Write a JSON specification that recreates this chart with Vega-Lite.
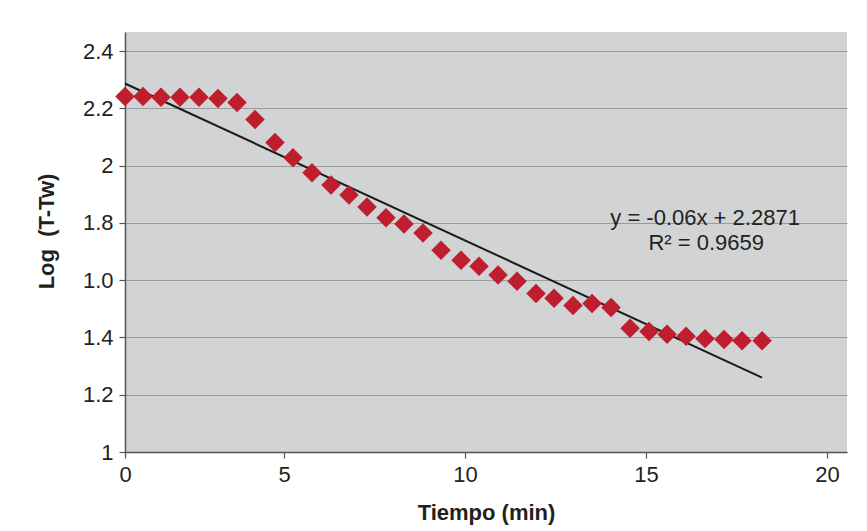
{
  "$schema": "https://vega.github.io/schema/vega-lite/v6.json",
  "autosize": {"type": "none"},
  "padding": {"left": 125, "top": 32, "right": 20, "bottom": 79},
  "width": 722,
  "height": 420,
  "background": "white",
  "config": {
    "font": "Liberation Sans",
    "view": {"fill": "#d1d3d4", "stroke": null},
    "axis": {
      "labelFont": "Liberation Sans",
      "titleFont": "Liberation Sans",
      "labelColor": "#231f20",
      "titleColor": "#231f20",
      "labelFontSize": 22,
      "titleFontSize": 22,
      "titleFontWeight": "bold",
      "domainColor": "#555555",
      "domainWidth": 1.5,
      "tickColor": "#555555",
      "tickWidth": 1.2,
      "tickSize": 6,
      "labelFlush": false
    }
  },
  "datasets": {
    "pts": [
      {"t": 0.0, "v": 2.242},
      {"t": 0.566, "v": 2.242},
      {"t": 1.132, "v": 2.239},
      {"t": 1.73, "v": 2.239},
      {"t": 2.327, "v": 2.239},
      {"t": 2.925, "v": 2.235},
      {"t": 3.522, "v": 2.221},
      {"t": 4.088, "v": 2.161},
      {"t": 4.717, "v": 2.081},
      {"t": 5.249, "v": 2.028},
      {"t": 5.773, "v": 1.975},
      {"t": 6.298, "v": 1.933},
      {"t": 6.796, "v": 1.898},
      {"t": 7.293, "v": 1.856},
      {"t": 7.818, "v": 1.818},
      {"t": 8.315, "v": 1.796},
      {"t": 8.84, "v": 1.765},
      {"t": 9.337, "v": 1.705},
      {"t": 9.89, "v": 1.670},
      {"t": 10.387, "v": 1.649},
      {"t": 10.912, "v": 1.618},
      {"t": 11.436, "v": 1.596},
      {"t": 11.961, "v": 1.554},
      {"t": 12.459, "v": 1.537},
      {"t": 12.983, "v": 1.512},
      {"t": 13.508, "v": 1.519},
      {"t": 14.033, "v": 1.505},
      {"t": 14.558, "v": 1.432},
      {"t": 15.083, "v": 1.421},
      {"t": 15.58, "v": 1.411},
      {"t": 16.105, "v": 1.404},
      {"t": 16.63, "v": 1.396},
      {"t": 17.155, "v": 1.393},
      {"t": 17.652, "v": 1.389},
      {"t": 18.204, "v": 1.389}
    ],
    "trend": [
      {"t": 0, "v": 2.2871},
      {"t": 18.204, "v": 1.26}
    ],
    "notes": [
      {"t": 16.63, "v": 1.8175, "label": "y = -0.06x + 2.2871"},
      {"t": 16.66, "v": 1.730, "label": "R² = 0.9659"}
    ]
  },
  "encoding": {
    "x": {
      "field": "t",
      "type": "quantitative",
      "scale": {"domain": [0, 5, 20.55], "range": [0, 159, 722], "nice": false, "zero": false},
      "axis": {
        "title": "Tiempo (min)",
        "values": [0, 5, 10, 15, 20],
        "grid": false,
        "labelPadding": 6,
        "titleY": 67,
        "titleBaseline": "alphabetic"
      }
    },
    "y": {
      "field": "v",
      "type": "quantitative",
      "scale": {"domain": [1, 2.467], "nice": false, "zero": false},
      "axis": {
        "title": "Log\u00a0\u00a0(T-Tw)",
        "values": [1, 1.2, 1.4, 1.6, 1.8, 2, 2.2, 2.4],
        "format": ".1~f",
        "labelExpr": "abs(datum.value - 1.6) < 0.001 ? '1.0' : datum.label",
        "grid": true,
        "gridColor": "#9b9b9b",
        "gridWidth": 1.2,
        "labelPadding": 6,
        "titleX": -72,
        "titleY": 199,
        "titleBaseline": "alphabetic"
      }
    }
  },
  "layer": [
    {
      "data": {"name": "trend"},
      "mark": {"type": "line", "color": "#1a1a1a", "strokeWidth": 2}
    },
    {
      "data": {"name": "pts"},
      "mark": {"type": "point", "shape": "diamond", "filled": true, "color": "#be1e2d", "opacity": 1, "size": 380}
    },
    {
      "data": {"name": "notes"},
      "mark": {"type": "text", "fontSize": 22, "color": "#231f20", "align": "center", "baseline": "middle", "font": "Liberation Sans"},
      "encoding": {"text": {"field": "label"}}
    }
  ]
}
